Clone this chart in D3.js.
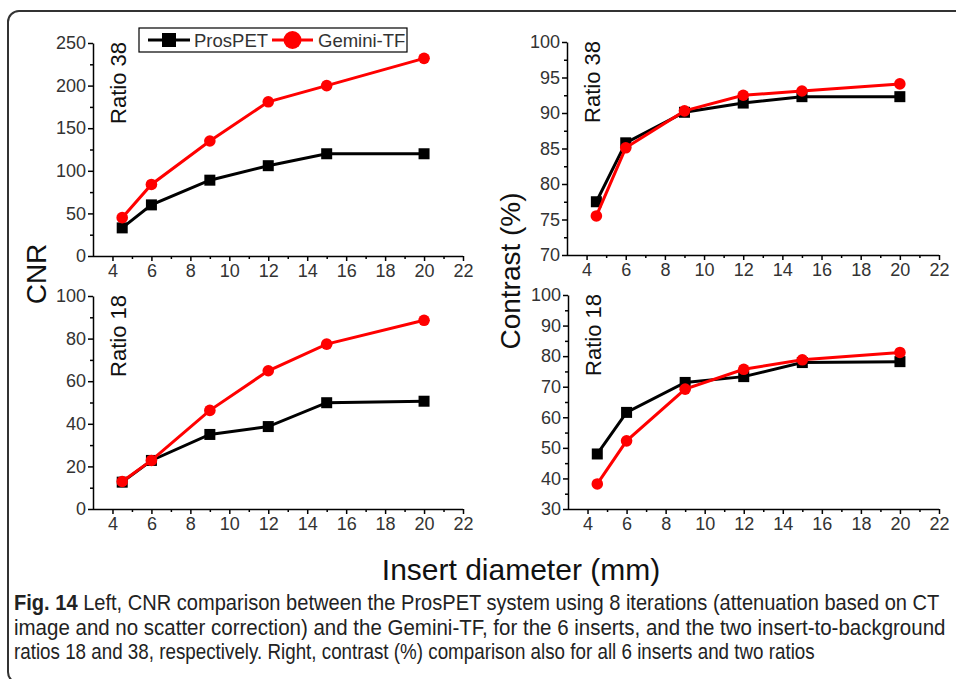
<!DOCTYPE html>
<html>
<head>
<meta charset="utf-8">
<script src="https://cdn.jsdelivr.net/npm/d3@7"></script>
<style>
  body { margin: 0; background: #fff; }
  svg { display: block; }
  .tick text { font-family: "Liberation Sans", Arial, sans-serif; font-size: 18px; fill: #333; }
</style>
</head>
<body>
<div id="chart"></div>
<script>
// insert diameters (mm)
var diameters = [4.5, 6, 9, 12, 15, 20];

// CNR, ratio 38
var cnr38Pros = [33, 60, 89, 106, 120, 120];
var cnr38Gem = [45, 84, 135, 181, 200, 232];
// Contrast (%), ratio 38
var con38Pros = [77.5, 85.8, 90.1, 91.4, 92.3, 92.3];
var con38Gem = [75.5, 85.1, 90.3, 92.5, 93.1, 94.1];
// CNR, ratio 18
var cnr18Pros = [12.6, 22.8, 35, 38.7, 49.9, 50.6];
var cnr18Gem = [12.9, 22.8, 46.3, 64.9, 77.4, 88.6];
// Contrast (%), ratio 18
var con18Pros = [48, 61.6, 71.4, 73.3, 77.9, 78.2];
var con18Gem = [38.2, 52.3, 69.2, 75.7, 78.8, 81.2];

var xTicks = [4, 6, 8, 10, 12, 14, 16, 18, 20, 22];
var cnr38Ticks = [0, 50, 100, 150, 200, 250];
var con38Ticks = [70, 75, 80, 85, 90, 95, 100];
var cnr18Ticks = [0, 20, 40, 60, 80, 100];
var con18Ticks = [30, 40, 50, 60, 70, 80, 90, 100];

var seriesNames = ["ProsPET", "Gemini-TF"];
var colors = ["#000000", "#ff0000"];

var width = 956, height = 679;
var svg = d3.select("#chart").append("svg").attr("width", width).attr("height", height);

// figure frame (right and bottom edges run off the page)
svg.append("rect")
  .attr("x", 8).attr("y", 11)
  .attr("width", 1000).attr("height", 672)
  .attr("rx", 11)
  .attr("fill", "none")
  .attr("stroke", "#333")
  .attr("stroke-width", 2);

var panels = [
  { left: 93, right: 463, top: 43, bottom: 256, ticks: cnr38Ticks, pros: cnr38Pros, gem: cnr38Gem, label: "Ratio 38" },
  { left: 567, right: 939, top: 42, bottom: 255, ticks: con38Ticks, pros: con38Pros, gem: con38Gem, label: "Ratio 38" },
  { left: 93, right: 463, top: 296, bottom: 509, ticks: cnr18Ticks, pros: cnr18Pros, gem: cnr18Gem, label: "Ratio 18" },
  { left: 568, right: 939, top: 295, bottom: 509, ticks: con18Ticks, pros: con18Pros, gem: con18Gem, label: "Ratio 18" }
];

function drawPanel(p) {
  var g = svg.append("g");
  var xScale = d3.scaleLinear().domain([3, 22]).range([p.left, p.right]);
  var y0 = p.ticks[0], y1 = p.ticks[p.ticks.length - 1];
  var yScale = d3.scaleLinear().domain([y0, y1]).range([p.bottom, p.top]);
  var step = p.ticks[1] - p.ticks[0];

  var xMinor = xTicks.slice(0, -1).map(function(t) { return t + 1; });
  var yMinor = p.ticks.slice(0, -1).map(function(t) { return t + step / 2; });

  // minor ticks
  g.append("g")
    .attr("transform", "translate(0," + p.bottom + ")")
    .call(d3.axisBottom(xScale).tickValues(xMinor).tickSize(3).tickFormat(""))
    .call(function(a) { a.select(".domain").remove(); });
  g.append("g")
    .attr("transform", "translate(" + p.left + ",0)")
    .call(d3.axisLeft(yScale).tickValues(yMinor).tickSize(3).tickFormat(""))
    .call(function(a) { a.select(".domain").remove(); });

  var xAxis = g.append("g")
    .attr("transform", "translate(0," + p.bottom + ")")
    .call(d3.axisBottom(xScale).tickValues(xTicks).tickSize(5).tickSizeOuter(0).tickPadding(3));
  xAxis.select(".domain").attr("d", "M" + p.left + ",0.5H" + p.right);

  g.append("g")
    .attr("transform", "translate(" + p.left + ",0)")
    .call(d3.axisLeft(yScale).tickValues(p.ticks).tickSize(5).tickSizeOuter(0).tickPadding(2));

  g.selectAll(".domain, .tick line").attr("stroke", "#000").attr("stroke-width", 1.5);

  var line = d3.line()
    .x(function(d) { return xScale(d[0]); })
    .y(function(d) { return yScale(d[1]); });

  var prosData = diameters.map(function(d, i) { return [d, p.pros[i]]; });
  var gemData = diameters.map(function(d, i) { return [d, p.gem[i]]; });

  g.append("path").datum(prosData).attr("d", line)
    .attr("fill", "none").attr("stroke", colors[0]).attr("stroke-width", 3);
  g.selectAll("rect.m").data(prosData).enter().append("rect")
    .attr("x", function(d) { return xScale(d[0]) - 5.5; })
    .attr("y", function(d) { return yScale(d[1]) - 5.5; })
    .attr("width", 11).attr("height", 11)
    .attr("fill", colors[0]);

  g.append("path").datum(gemData).attr("d", line)
    .attr("fill", "none").attr("stroke", colors[1]).attr("stroke-width", 3);
  g.selectAll("circle.m").data(gemData).enter().append("circle")
    .attr("cx", function(d) { return xScale(d[0]); })
    .attr("cy", function(d) { return yScale(d[1]); })
    .attr("r", 5.8)
    .attr("fill", colors[1]);

  g.append("text")
    .attr("transform", "translate(" + (p.left + 33) + "," + (p.top - 1) + ") rotate(-90)")
    .attr("text-anchor", "end")
    .style("font-family", "Liberation Sans, Arial, sans-serif")
    .style("font-size", "22px")
    .attr("fill", "#111")
    .text(p.label);
}

panels.forEach(drawPanel);

// legend
var leg = svg.append("g");
leg.append("rect").attr("x", 139).attr("y", 28).attr("width", 268).attr("height", 24)
  .attr("fill", "#fff").attr("stroke", "#000").attr("stroke-width", 1.2);
leg.append("line").attr("x1", 148).attr("x2", 190).attr("y1", 40).attr("y2", 40)
  .attr("stroke", colors[0]).attr("stroke-width", 3);
leg.append("rect").attr("x", 162).attr("y", 33).attr("width", 14).attr("height", 14).attr("fill", colors[0]);
leg.append("text").attr("x", 194).attr("y", 47)
  .style("font-family", "Liberation Sans, Arial, sans-serif").style("font-size", "18.5px").attr("fill", "#333")
  .text(seriesNames[0]);
leg.append("line").attr("x1", 272).attr("x2", 313).attr("y1", 40).attr("y2", 40)
  .attr("stroke", colors[1]).attr("stroke-width", 3);
leg.append("circle").attr("cx", 292.5).attr("cy", 40).attr("r", 9).attr("fill", colors[1]);
leg.append("text").attr("x", 318).attr("y", 47)
  .style("font-family", "Liberation Sans, Arial, sans-serif").style("font-size", "18.5px").attr("fill", "#333")
  .text(seriesNames[1]);

// axis titles
var titleFont = "Liberation Sans, Arial, sans-serif";
svg.append("text")
  .attr("transform", "translate(46,274) rotate(-90)")
  .attr("text-anchor", "middle")
  .style("font-family", titleFont).style("font-size", "28px").attr("fill", "#111")
  .text("CNR");
svg.append("text")
  .attr("transform", "translate(520,271) rotate(-90)")
  .attr("text-anchor", "middle")
  .style("font-family", titleFont).style("font-size", "28px").attr("fill", "#111")
  .text("Contrast (%)");
svg.append("text")
  .attr("x", 521).attr("y", 580)
  .attr("text-anchor", "middle")
  .style("font-family", titleFont).style("font-size", "30px").attr("fill", "#111")
  .text("Insert diameter (mm)");

// caption: each line squeezed horizontally to the width it has in the figure
var capLines = [
  { y: 610, right: 940, bold: "Fig. 14 ", rest: "Left, CNR comparison between the ProsPET system using 8 iterations (attenuation based on CT" },
  { y: 635, right: 946, bold: "", rest: "image and no scatter correction) and the Gemini-TF, for the 6 inserts, and the two insert-to-background" },
  { y: 659, right: 815, bold: "", rest: "ratios 18 and 38, respectively. Right, contrast (%) comparison also for all 6 inserts and two ratios" }
];
var cap = svg.append("g")
  .style("font-family", "'Liberation Sans', Arial, sans-serif")
  .style("font-size", "22px")
  .attr("fill", "#222");
capLines.forEach(function(c) {
  var t = cap.append("text").attr("x", 0).attr("y", 0);
  if (c.bold) t.append("tspan").style("font-weight", "bold").text(c.bold);
  t.append("tspan").text(c.rest);
  var natural = t.node().getComputedTextLength();
  var s = (c.right - 14) / natural;
  t.attr("transform", "translate(14," + c.y + ") scale(" + s + ",1)");
});
</script>
</body>
</html>
